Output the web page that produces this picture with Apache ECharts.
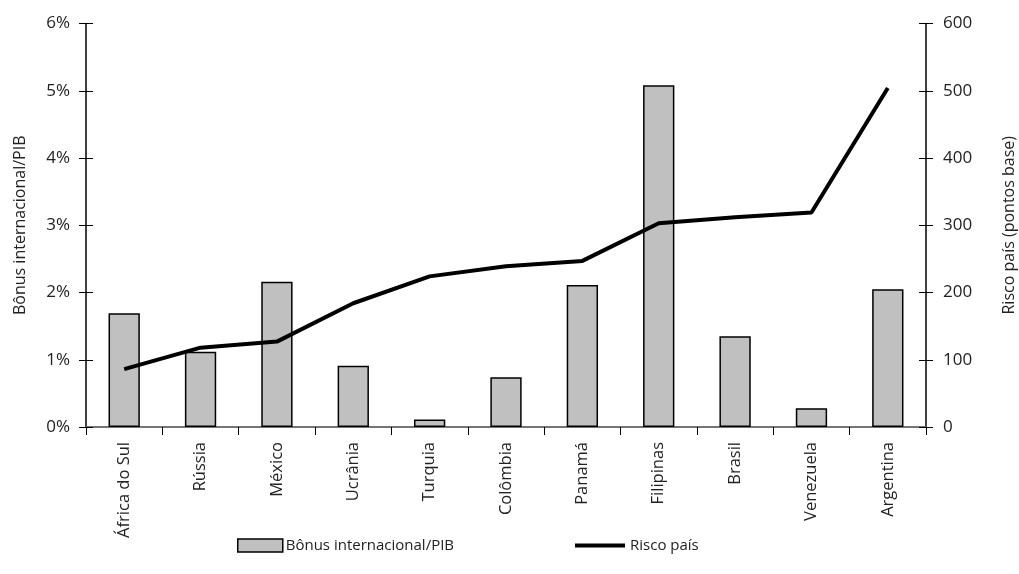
<!DOCTYPE html>
<html><head><meta charset="utf-8">
<script src="https://cdn.jsdelivr.net/npm/echarts@6/dist/echarts.min.js"></script>
<style>html,body{margin:0;padding:0;background:#fff;overflow:hidden}#c{width:1019px;height:574px}</style>
</head><body><div id="c"></div>
<script>
const categories = ['África do Sul','Rússia','México','Ucrânia','Turquia','Colômbia','Panamá','Filipinas','Brasil','Venezuela','Argentina'];
const bonusPIB = [1.69, 1.12, 2.16, 0.91, 0.11, 0.74, 2.11, 5.08, 1.35, 0.28, 2.05];
const riscoPais = [86, 118, 127, 184, 224, 239, 247, 303, 312, 319, 504];
const leftTicks = [0,1,2,3,4,5,6];
const rightTicks = [0,100,200,300,400,500,600];

const FONT = '"Open Sans", sans-serif';
const chart = echarts.init(document.getElementById('c'), null, {renderer:'canvas', width:1019, height:574});
const lbl = {color:'#222', fontFamily:FONT, fontSize:17};
chart.setOption({
  animation:false,
  textStyle:{fontFamily:FONT},
  grid:{left:86, right:93, top:23.5, bottom:147, containLabel:false, outerBoundsMode:'none'},
  legend:[
    {left:232, top:533, itemWidth:45, itemHeight:13, icon:'rect', data:['Bônus internacional/PIB'],
     itemStyle:{color:'#c0c0c0', borderColor:'#000', borderWidth:1.5},
     textStyle:Object.assign({}, lbl, {fontSize:15, padding:[0,0,0,-2]})},
    {left:570, top:533, itemWidth:50, itemHeight:13, icon:'path://M0,5 L50,5 L50,9 L0,9 Z', data:['Risco país'],
     itemStyle:{color:'#000'}, lineStyle:{width:0},
     textStyle:Object.assign({}, lbl, {fontSize:15, padding:[0,0,0,0]})}
  ],
  xAxis:[
    {type:'category', data:categories, boundaryGap:true,
     axisLine:{lineStyle:{color:'#000', width:1.5}},
     axisTick:{show:true, inside:false, length:8, lineStyle:{color:'#000', width:1}},
     axisLabel:Object.assign({}, lbl, {fontSize:16.5, rotate:90, margin:15, interval:0})},
    {type:'category', data:categories, position:'top',
     axisLine:{show:true, lineStyle:{color:'#888', width:1.5}},
     axisTick:{show:false}, axisLabel:{show:false}}
  ],
  yAxis:[
    {type:'value', min:0, max:6, interval:1, position:'left',
     name:'Bônus internacional/PIB', nameLocation:'middle', nameRotate:90, nameGap:58,
     nameTextStyle:Object.assign({}, lbl, {fontSize:16}),
     axisLine:{show:true, lineStyle:{color:'#000', width:1.5}},
     axisTick:{show:true, length:7, lineStyle:{color:'#000'}},
     axisLabel:Object.assign({}, lbl, {margin:16, formatter:v=>leftTicks.includes(v)? v+'%':''}),
     splitLine:{show:false}},
    {type:'value', min:0, max:600, interval:100, position:'right',
     name:'Risco país (pontos base)', nameLocation:'middle', nameRotate:90, nameGap:75,
     nameTextStyle:Object.assign({}, lbl, {fontSize:16}),
     axisLine:{show:true, lineStyle:{color:'#000', width:1.5}},
     axisTick:{show:true, length:7, lineStyle:{color:'#000'}},
     axisLabel:Object.assign({}, lbl, {margin:17, formatter:v=>rightTicks.includes(v)? String(v):''}),
     splitLine:{show:false}},
    {type:'value', min:0, max:6, interval:1, position:'left',
     axisLine:{show:false}, axisTick:{show:true, inside:true, length:7, lineStyle:{color:'#000'}},
     axisLabel:{show:false}, splitLine:{show:false}},
    {type:'value', min:0, max:600, interval:100, position:'right',
     axisLine:{show:false}, axisTick:{show:true, inside:true, length:7, lineStyle:{color:'#000'}},
     axisLabel:{show:false}, splitLine:{show:false}}
  ],
  series:[
    {name:'Bônus internacional/PIB', type:'bar', data:bonusPIB, yAxisIndex:0, barWidth:'41%',
     itemStyle:{color:'#c0c0c0', borderColor:'#000', borderWidth:1.5}},
    {name:'Risco país', type:'line', data:riscoPais, yAxisIndex:1, symbol:'none', showSymbol:false,
     lineStyle:{color:'#000', width:4}, itemStyle:{color:'#000'}, z:5}
  ]
});
</script></body></html>
